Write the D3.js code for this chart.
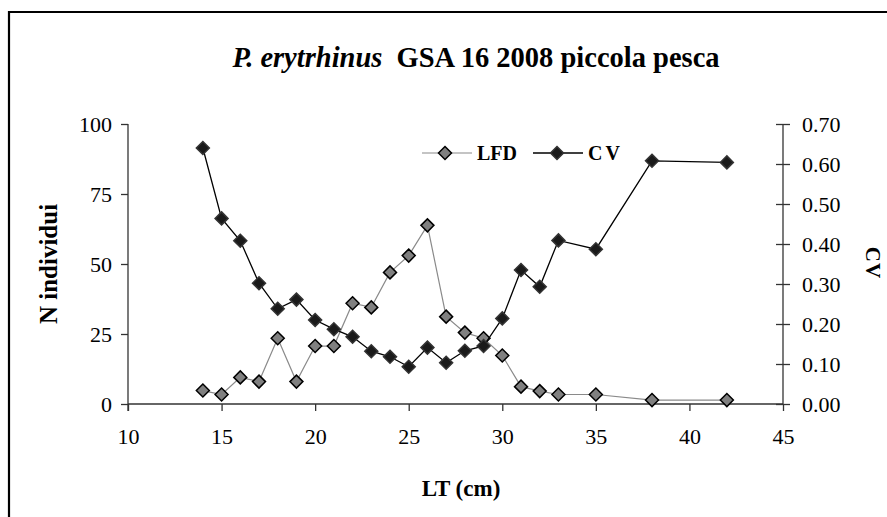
<!DOCTYPE html>
<html>
<head>
<meta charset="utf-8">
<script src="https://cdn.jsdelivr.net/npm/d3@7"></script>
<style>
  html, body { margin: 0; padding: 0; background: #fff; }
  svg { display: block; }
  text { font-family: "Liberation Serif", "Times New Roman", serif; fill: #000; }
</style>
</head>
<body>
<svg id="chart" width="887" height="517"></svg>
<script>
// ---- data ----
const lengths = [14, 15, 16, 17, 18, 19, 20, 21, 22, 23, 24, 25, 26, 27, 28, 29, 30, 31, 32, 33, 35, 38, 42];
const lfdValues = [4.8, 3.4, 9.5, 8, 23.5, 8, 20.7, 20.7, 36, 34.5, 47, 53, 63.8, 31.2, 25.5, 23.5, 17.3, 6.2, 4.6, 3.4, 3.4, 1.4, 1.4];
const cvValues = [0.64, 0.464, 0.408, 0.302, 0.238, 0.261, 0.21, 0.187, 0.168, 0.132, 0.118, 0.093, 0.141, 0.103, 0.133, 0.145, 0.214, 0.335, 0.293, 0.409, 0.387, 0.608, 0.604];
const xTicks = [10, 15, 20, 25, 30, 35, 40, 45];
const yLeftTicks = [0, 25, 50, 75, 100];
const yRightTicks = [0, 0.1, 0.2, 0.3, 0.4, 0.5, 0.6, 0.7];
const seriesNames = ["LFD", "CV"];

const svg = d3.select("#chart");
const plot = { left: 128, right: 783, top: 124, bottom: 404 };

const x = d3.scaleLinear().domain([10, 45]).range([plot.left, plot.right]);
const yL = d3.scaleLinear().domain([0, 100]).range([plot.bottom, plot.top]);
const yR = d3.scaleLinear().domain([0, 0.7]).range([plot.bottom, plot.top]);

// frame (partially visible)
svg.append("line").attr("x1", 9).attr("y1", 12).attr("x2", 887).attr("y2", 12)
  .attr("stroke", "#000").attr("stroke-width", 2.2);
svg.append("line").attr("x1", 9).attr("y1", 11).attr("x2", 9).attr("y2", 517)
  .attr("stroke", "#000").attr("stroke-width", 2.2);

// title
const title = svg.append("text").attr("x", 476).attr("y", 67)
  .attr("text-anchor", "middle").attr("font-size", 28.5).attr("font-weight", "bold");
title.append("tspan").attr("font-style", "italic").text("P. erytrhinus");
title.append("tspan").text("\u00a0 GSA 16 2008 piccola pesca");

const axisColor = "#333";
const tickFont = 22;

// x axis
const xAxis = svg.append("g").attr("transform", `translate(0,${plot.bottom})`)
  .call(d3.axisBottom(x).tickValues(xTicks).tickSize(7).tickPadding(17).tickFormat(d3.format("d")));
// left axis
const yAxisL = svg.append("g").attr("transform", `translate(${plot.left},0)`)
  .call(d3.axisLeft(yL).tickValues(yLeftTicks).tickSize(7).tickPadding(9).tickFormat(d3.format("d")));
// right axis (ticks crossing)
const yAxisR = svg.append("g").attr("transform", `translate(${plot.right},0)`)
  .call(d3.axisRight(yR).tickValues(yRightTicks).tickSize(7).tickPadding(12).tickFormat(d3.format(".2f")));
yAxisR.selectAll(".tick line").attr("x1", -7);

[xAxis, yAxisL, yAxisR].forEach(g => {
  g.select(".domain").attr("stroke", axisColor).attr("stroke-width", 1.3);
  g.selectAll(".tick line").attr("stroke", axisColor).attr("stroke-width", 1.3);
  g.selectAll("text").attr("font-size", tickFont).attr("font-family", "'Liberation Serif', 'Times New Roman', serif").attr("fill", "#000");
});
xAxis.select(".domain").attr("d", `M${plot.left},0H${plot.right}`);
yAxisL.select(".domain").attr("d", `M0,${plot.top}V${plot.bottom + 7}`);
yAxisR.select(".domain").attr("d", `M0,${plot.top}V${plot.bottom}`);

// axis titles
svg.append("text").attr("x", 461).attr("y", 496).attr("text-anchor", "middle")
  .attr("font-size", 23).attr("font-weight", "bold").text("LT (cm)");
svg.append("text").attr("transform", "translate(57,264) rotate(-90)").attr("text-anchor", "middle")
  .attr("font-size", 25).attr("font-weight", "bold").text("N individui");
svg.append("text").attr("transform", "translate(866,263) rotate(90)").attr("text-anchor", "middle")
  .attr("font-size", 21).attr("font-weight", "bold").attr("letter-spacing", 1).text("CV");

function diamondPath(s) {
  return `M0,${-s}L${s},0L0,${s}L${-s},0Z`;
}

// LFD series
const lfdData = lengths.map((l, i) => [l, lfdValues[i]]);
svg.append("path").datum(lfdData)
  .attr("fill", "none").attr("stroke", "#8a8a8a").attr("stroke-width", 1.2)
  .attr("d", d3.line().x(d => x(d[0])).y(d => yL(d[1])));
svg.append("g").selectAll("path").data(lfdData).join("path")
  .attr("transform", d => `translate(${x(d[0])},${yL(d[1])})`)
  .attr("d", diamondPath(6.5))
  .attr("fill", "#808080").attr("stroke", "#000").attr("stroke-width", 1.5);

// CV series
const cvData = lengths.map((l, i) => [l, cvValues[i]]);
svg.append("path").datum(cvData)
  .attr("fill", "none").attr("stroke", "#000").attr("stroke-width", 1.3)
  .attr("d", d3.line().x(d => x(d[0])).y(d => yR(d[1])));
svg.append("g").selectAll("path").data(cvData).join("path")
  .attr("transform", d => `translate(${x(d[0])},${yR(d[1])})`)
  .attr("d", diamondPath(6.5))
  .attr("fill", "#1a1a1a").attr("stroke", "#333").attr("stroke-width", 1.5);

// legend
const legend = svg.append("g");
const ly = 153;
legend.append("line").attr("x1", 422).attr("x2", 472).attr("y1", ly).attr("y2", ly)
  .attr("stroke", "#8a8a8a").attr("stroke-width", 1.2);
legend.append("path").attr("transform", `translate(445,${ly})`).attr("d", diamondPath(6.5))
  .attr("fill", "#808080").attr("stroke", "#000").attr("stroke-width", 1.5);
legend.append("text").attr("x", 477).attr("y", ly + 7).attr("font-size", 20).attr("font-weight", "bold").text(seriesNames[0]);
legend.append("line").attr("x1", 533).attr("x2", 583).attr("y1", ly).attr("y2", ly)
  .attr("stroke", "#000").attr("stroke-width", 1.3);
legend.append("path").attr("transform", `translate(557,${ly})`).attr("d", diamondPath(6.5))
  .attr("fill", "#1a1a1a").attr("stroke", "#333").attr("stroke-width", 1.5);
legend.append("text").attr("x", 588).attr("y", ly + 7).attr("font-size", 20).attr("font-weight", "bold")
  .attr("letter-spacing", 3).text(seriesNames[1]);
</script>
</body>
</html>
